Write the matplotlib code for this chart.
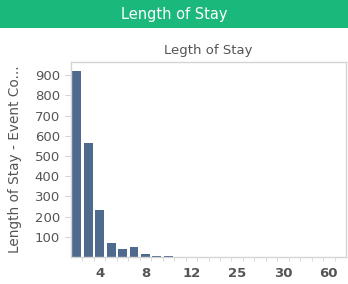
import numpy as np
import matplotlib.pyplot as plt
from matplotlib.patches import Rectangle

# length of stay categories (days) and event counts
stay_days = [2, 3, 4, 5, 6, 7, 8, 9, 10, 11, 12, 14, 16, 20, 25, 26, 27, 28, 30, 31, 35, 45, 60, 90]
event_count = [919, 565, 232, 70, 40, 48, 17, 5, 5, 2, 1, 1, 1, 1, 1, 1, 1, 1, 1, 1, 1, 1, 1, 1]
shown_labels = [4, 8, 12, 25, 30, 60]

bar_color = '#4e6a8c'
frame_color = '#d4d4d4'
text_gray = '#555555'

fig = plt.figure(figsize=(3.48, 2.84), dpi=100)

# green header band
fig.patches.append(Rectangle((0, 1 - 28/284), 1, 28/284, transform=fig.transFigure,
                             facecolor='#1bb87c', edgecolor='none', zorder=0))
fig.text(0.5, 1 - 14/284, 'Length of Stay', ha='center', va='center',
         color='white', fontsize=10.5)

ax = fig.add_axes([71/348, 27/284, 275/348, 195/284])
x = np.arange(len(stay_days))
ax.bar(x, event_count, width=0.78, color=bar_color)

ax.set_xlim(-0.5, len(stay_days) - 0.5)
ax.set_ylim(0, 965)

pos = [stay_days.index(v) for v in shown_labels]
ax.set_xticks(pos)
ax.set_xticklabels([str(v) for v in shown_labels], fontweight='bold', color=text_gray, fontsize=9.5)
ax.set_xticks(x[:-1] + 0.5, minor=True)
ax.tick_params(axis='x', which='major', length=0, pad=7)
ax.tick_params(axis='x', which='minor', length=3, color=frame_color)

ax.set_yticks(range(100, 1000, 100))
ax.tick_params(axis='y', length=4, color=frame_color, labelcolor=text_gray, labelsize=9.5, pad=4)

for s in ax.spines.values():
    s.set_color(frame_color)
    s.set_linewidth(1)

ax.set_title('Legth of Stay', color=text_gray, fontsize=9.5, pad=6)
ax.set_ylabel('Length of Stay - Event Co...', color=text_gray, fontsize=9.8, labelpad=9)

fig.savefig('out.png', dpi=100)
